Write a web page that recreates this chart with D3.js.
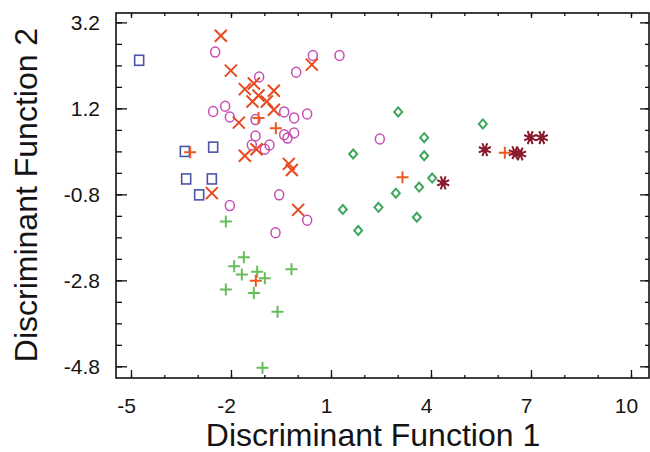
<!DOCTYPE html>
<html>
<head>
<meta charset="utf-8">
<script src="https://cdn.jsdelivr.net/npm/d3@7"></script>
<style>
	body { margin: 0; background: #fff; }
	svg { display: block; }
	text { font-family: "Liberation Sans", Arial, sans-serif; fill: #141414; }
</style>
</head>
<body>
<svg id="chart" width="650" height="452"></svg>
<script>
// groups, [function 1, function 2]
const squares = [[-4.77, 2.33], [-3.40, 0.21], [-2.55, 0.31], [-3.36, -0.43], [-2.59, -0.43], [-2.97, -0.80]];
const crosses = [[-2.32, 2.90], [-2.02, 2.09], [-1.60, 1.66], [-1.33, 1.79], [-1.19, 1.51], [-1.37, 1.37],
	[-0.94, 1.37], [-0.73, 1.62], [-0.73, 1.18], [-1.78, 0.88], [-1.60, 0.11], [-1.25, 0.26],
	[-2.59, -0.76], [0.41, 2.23], [-0.28, -0.08], [-0.19, -0.22], [0.00, -1.15]];
const redPlus = [[-3.24, 0.19], [-1.19, 0.99], [-0.67, 0.75], [-1.27, -2.80], [3.13, -0.39], [6.20, 0.18]];
const circles = [[-2.49, 2.52], [-1.17, 1.94], [-2.55, 1.14], [-2.19, 1.26], [-2.05, 1.01], [-1.28, 0.95],
	[-0.42, 1.13], [-1.28, 0.57], [0.44, 2.44], [1.24, 2.44], [-0.06, 2.05], [-0.12, 0.99], [0.27, 1.08],
	[-0.42, 0.60], [-0.32, 0.52], [-0.12, 0.64], [-1.39, 0.36], [-1.00, 0.26], [-0.86, 0.36], [2.45, 0.50],
	[-0.57, -0.80], [-2.05, -1.05], [-0.68, -1.68], [0.27, -1.39]];
const greenPlus = [[-2.17, -1.42], [-1.63, -2.25], [-1.92, -2.46], [-1.69, -2.65], [-1.23, -2.59], [-1.00, -2.74],
	[-0.20, -2.53], [-2.17, -3.00], [-1.33, -3.08], [-0.62, -3.52], [-1.07, -4.82]];
const diamonds = [[3.00, 1.13], [5.54, 0.85], [3.78, 0.53], [1.65, 0.15], [3.78, 0.11], [4.02, -0.41],
	[3.63, -0.62], [2.93, -0.76], [1.34, -1.14], [2.41, -1.09], [3.56, -1.32], [1.80, -1.63]];
const stars = [[4.35, -0.52], [5.60, 0.25], [6.50, 0.18], [6.66, 0.15], [6.96, 0.53], [7.31, 0.53]];

const xMajor = [-5, -2, 1, 4, 7, 10];
const yMajor = [3.2, 1.2, -0.8, -2.8, -4.8];
const xMinor = d3.range(-5, 11, 1);
const yMinor = d3.range(-4.8, 3.3, 0.5);

const svg = d3.select('#chart'),
	frame = { left: 116, right: 649, top: 13, bottom: 378 };

const x = d3.scaleLinear().domain([-5.465, 10.525]).range([frame.left, frame.right]),
	y = d3.scaleLinear().domain([-5.06, 3.43]).range([frame.bottom, frame.top]);

// frame ticks, all pointing inwards
function ticks(vals, len, side) {
	const g = svg.append('g').attr('stroke', '#111').attr('stroke-width', 1.3);
	vals.forEach(v => {
		if (side === 'bottom') g.append('line').attr('x1', x(v)).attr('x2', x(v)).attr('y1', frame.bottom).attr('y2', frame.bottom - len);
		if (side === 'top') g.append('line').attr('x1', x(v)).attr('x2', x(v)).attr('y1', frame.top).attr('y2', frame.top + len);
		if (side === 'left') g.append('line').attr('y1', y(v)).attr('y2', y(v)).attr('x1', frame.left).attr('x2', frame.left + len);
		if (side === 'right') g.append('line').attr('y1', y(v)).attr('y2', y(v)).attr('x1', frame.right).attr('x2', frame.right - len);
	});
}
ticks(xMinor, 3, 'bottom');
ticks(xMajor, 8, 'bottom');
ticks(xMinor, 3, 'top');
ticks(xMajor, 5, 'top');
ticks(yMinor, 6, 'left');
ticks(yMajor, 11, 'left');
ticks(yMinor, 4, 'right');
ticks(yMajor, 9, 'right');

svg.append('rect')
	.attr('x', frame.left).attr('y', frame.top)
	.attr('width', frame.right - frame.left).attr('height', frame.bottom - frame.top)
	.attr('fill', 'none').attr('stroke', '#111').attr('stroke-width', 1.6);

function label(txt, px, py, size, anchor, rot) {
	svg.append('text')
		.attr('transform', `translate(${px},${py}) rotate(${rot || 0})`)
		.attr('text-anchor', anchor)
		.attr('font-size', size)
		.text(txt);
}

xMajor.forEach(v => label(v, x(v) - 5, 413, 21, 'middle'));
yMajor.forEach(v => label(v.toFixed(1), 100, y(v) + 7, 21, 'end'));
label('Discriminant Function 1', 373, 446, 32, 'middle');
label('Discriminant Function 2', 37, 195, 32, 'middle', -90);

// markers
const plot = svg.append('g');

function cross(d, s) {
	return `M${x(d[0]) - s},${y(d[1]) - s}L${x(d[0]) + s},${y(d[1]) + s}M${x(d[0]) - s},${y(d[1]) + s}L${x(d[0]) + s},${y(d[1]) - s}`;
}
function plus(d, s) {
	return `M${x(d[0]) - s},${y(d[1])}L${x(d[0]) + s},${y(d[1])}M${x(d[0])},${y(d[1]) - s}L${x(d[0])},${y(d[1]) + s}`;
}

plot.selectAll('.sq').data(squares).join('rect')
	.attr('x', d => x(d[0]) - 4.5).attr('y', d => y(d[1]) - 5)
	.attr('width', 9).attr('height', 10)
	.attr('fill', 'none').attr('stroke', '#4a55a8').attr('stroke-width', 1.6);

plot.selectAll('.ci').data(circles).join('ellipse')
	.attr('cx', d => x(d[0])).attr('cy', d => y(d[1]))
	.attr('rx', 4.5).attr('ry', 5)
	.attr('fill', 'none').attr('stroke', '#c84cb4').attr('stroke-width', 1.5);

plot.selectAll('.xx').data(crosses).join('path')
	.attr('d', d => cross(d, 6))
	.attr('fill', 'none').attr('stroke', '#e8491f').attr('stroke-width', 2);

plot.selectAll('.gp').data(greenPlus).join('path')
	.attr('d', d => plus(d, 6))
	.attr('fill', 'none').attr('stroke', '#67bd5c').attr('stroke-width', 2);

plot.selectAll('.rp').data(redPlus).join('path')
	.attr('d', d => plus(d, 6))
	.attr('fill', 'none').attr('stroke', '#ec5a22').attr('stroke-width', 2);

plot.selectAll('.di').data(diamonds).join('path')
	.attr('d', d => `M${x(d[0])},${y(d[1]) - 4.5}L${x(d[0]) + 4},${y(d[1])}L${x(d[0])},${y(d[1]) + 4.5}L${x(d[0]) - 4},${y(d[1])}Z`)
	.attr('fill', '#fff').attr('stroke', '#3fa65c').attr('stroke-width', 2);

// asterisk: spokes plus a solid core
const spokes = d3.range(8).map(i => i * Math.PI / 4 + Math.PI / 8);
const starG = plot.selectAll('.st').data(stars).join('g')
	.attr('transform', d => `translate(${x(d[0])},${y(d[1])})`);
starG.append('path')
	.attr('d', spokes.map(a => `M0,0L${(6.5 * Math.cos(a)).toFixed(2)},${(7 * Math.sin(a)).toFixed(2)}`).join(''))
	.attr('stroke', '#8a1a2e').attr('stroke-width', 2);
starG.append('circle').attr('r', 3).attr('fill', '#8a1a2e');
</script>
</body>
</html>
